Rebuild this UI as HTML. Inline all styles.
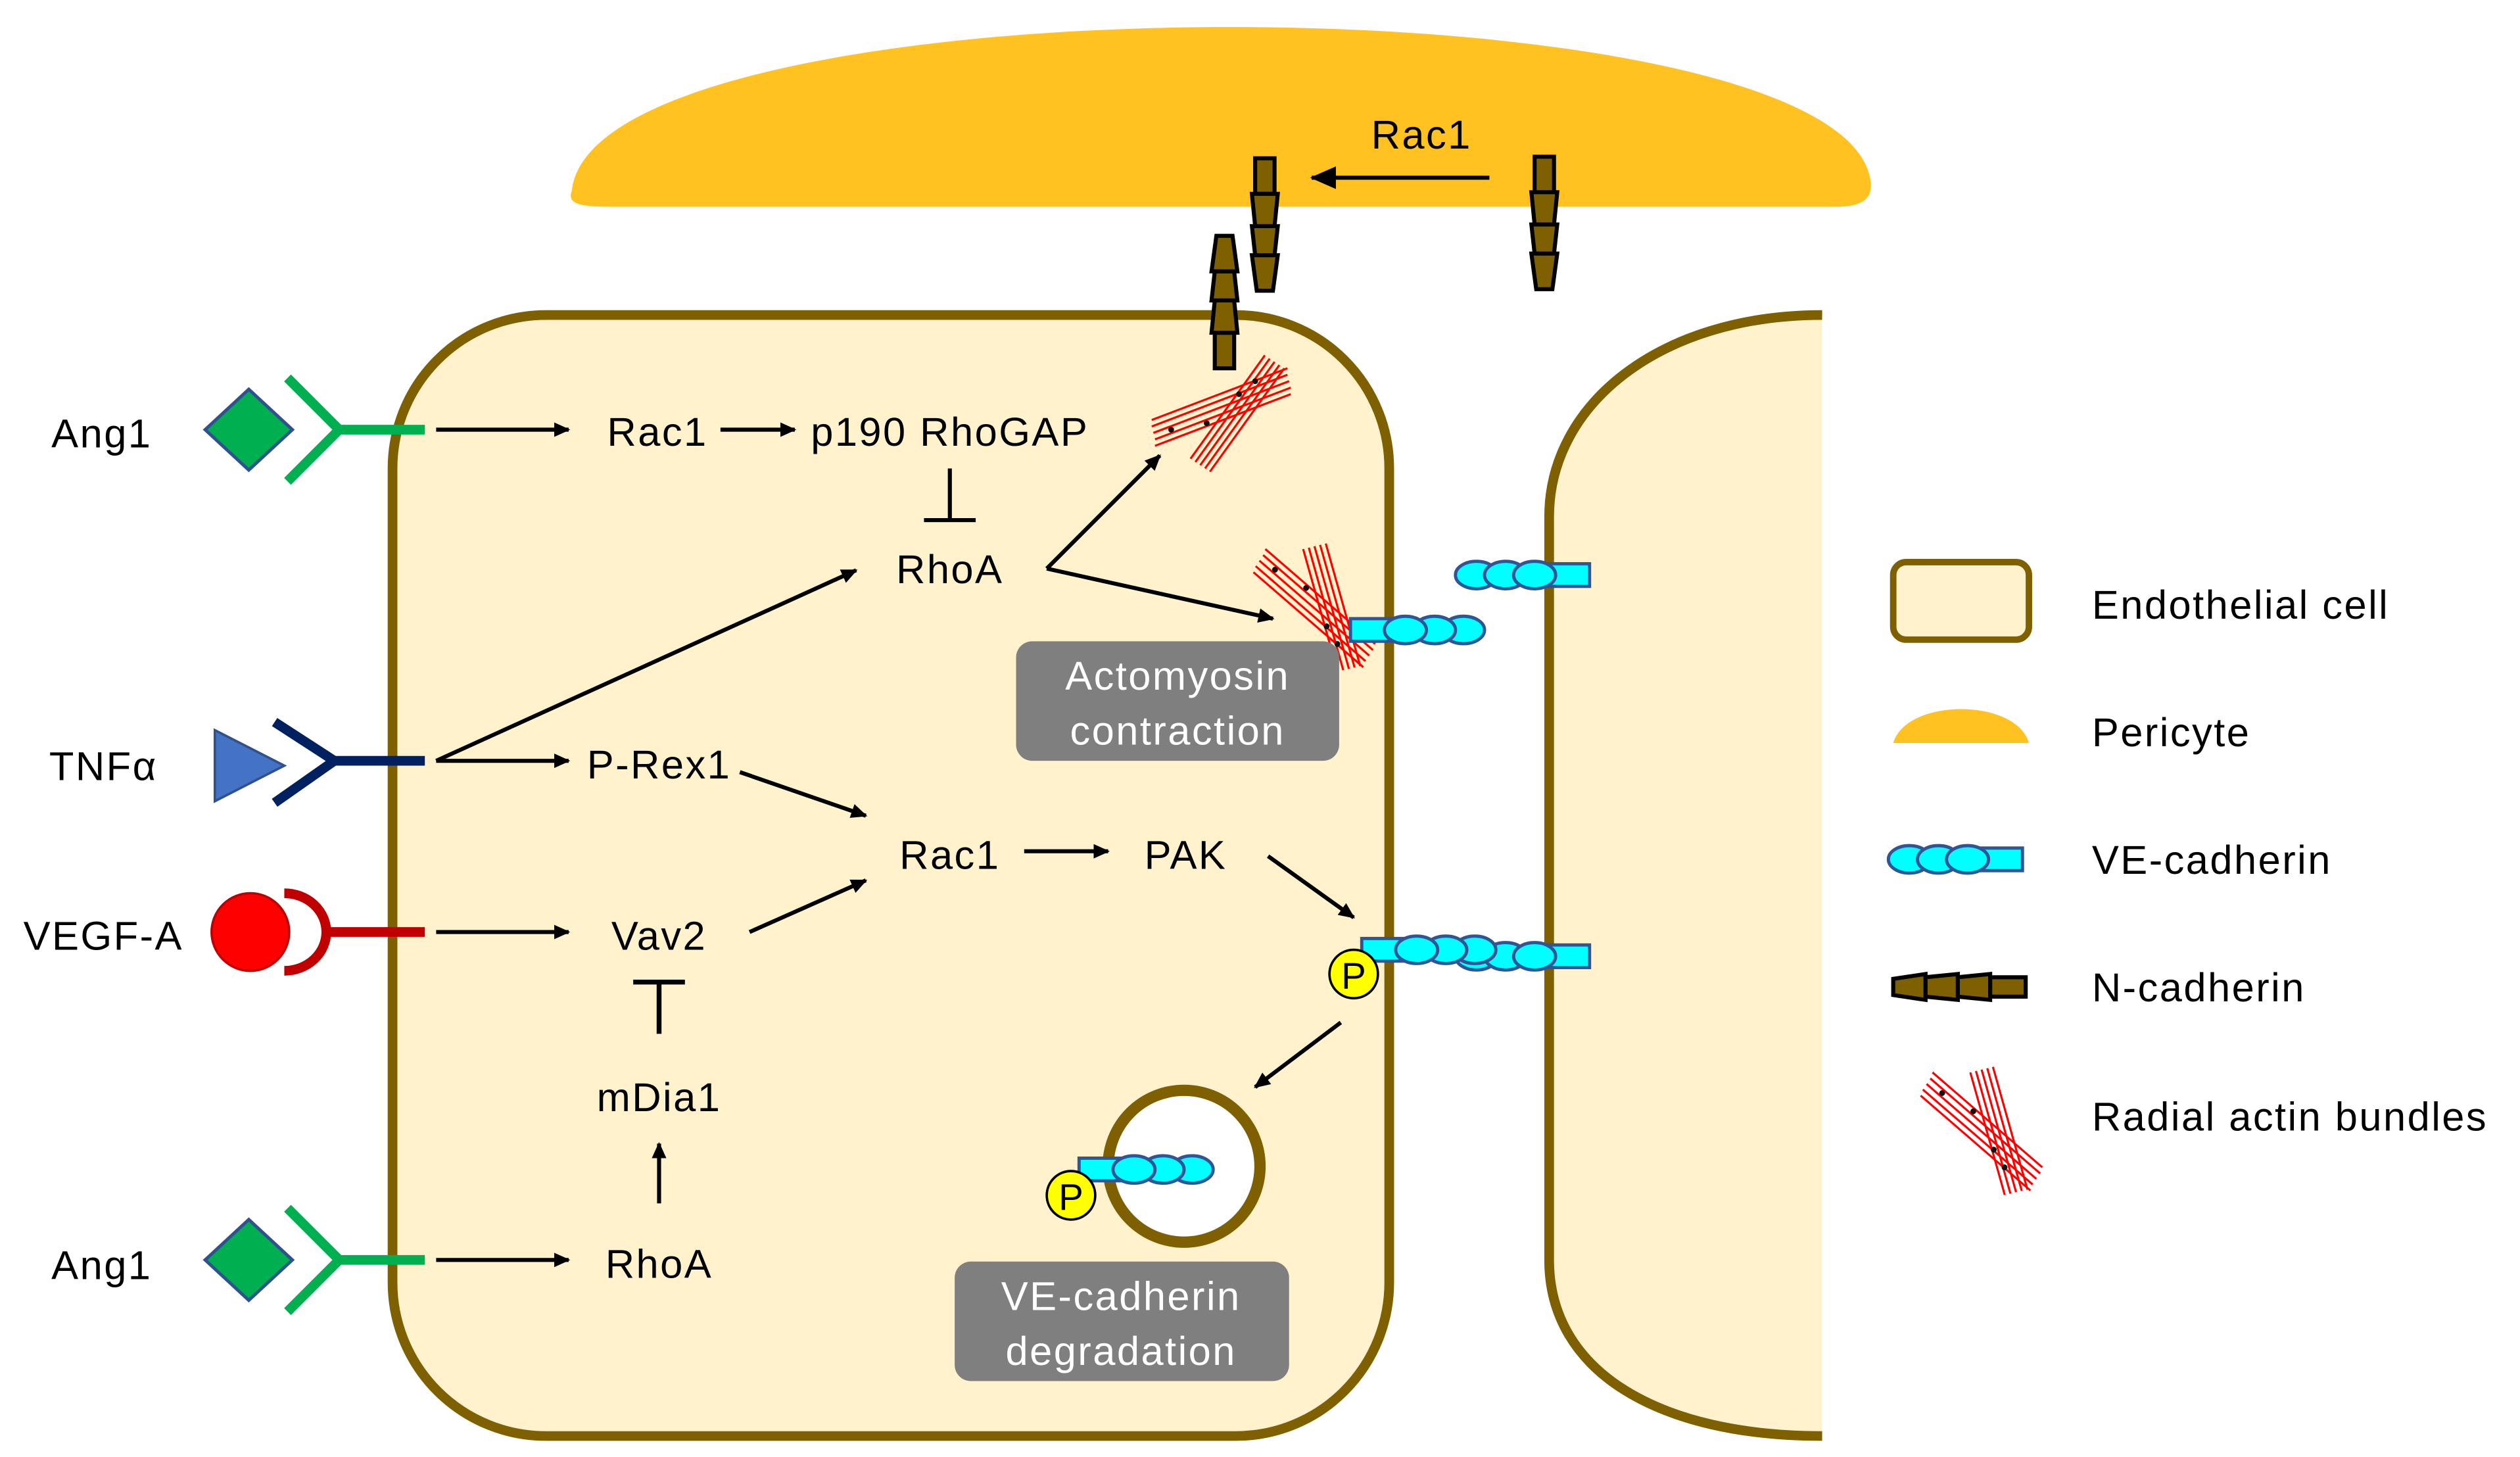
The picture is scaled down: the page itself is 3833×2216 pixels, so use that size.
<!DOCTYPE html>
<html><head><meta charset="utf-8"><style>html,body{margin:0;padding:0;background:#fff}svg{display:block}</style></head>
<body>
<svg width="3833" height="2216" viewBox="0 0 1560 902" preserveAspectRatio="none" xmlns="http://www.w3.org/2000/svg" font-family="Liberation Sans, sans-serif" font-size="25" letter-spacing="1">
<defs>
<marker id="ah" markerWidth="10" markerHeight="10" refX="9" refY="5" orient="auto" markerUnits="userSpaceOnUse" viewBox="0 0 10 10"><path d="M0,0.5 L10,5 L0,9.5 Z" fill="#000"/></marker>
<marker id="ah2" markerWidth="16" markerHeight="16" refX="15" refY="8" orient="auto" markerUnits="userSpaceOnUse" viewBox="0 0 16 16"><path d="M0,1 L16,8 L0,15 Z" fill="#000"/></marker>
<g id="ncd">
<rect x="-6" y="0" width="12" height="22" fill="#7f6000" stroke="#000" stroke-width="2.5"/>
<path d="M-8,22 L8,22 L6,42 L-6,42 Z" fill="#7f6000" stroke="#000" stroke-width="2.5"/>
<path d="M-8,42 L8,42 L6,60 L-6,60 Z" fill="#7f6000" stroke="#000" stroke-width="2.5"/>
<path d="M-8,60 L8,60 L5,82 L-5,82 Z" fill="#7f6000" stroke="#000" stroke-width="2.5"/>
</g>
<g id="vec">
<rect x="0" y="-7" width="26" height="14" fill="#00ffff" stroke="#2f5597" stroke-width="2"/>
<ellipse cx="70" cy="0" rx="13" ry="8.5" fill="#00ffff" stroke="#2f5597" stroke-width="2"/>
<ellipse cx="52" cy="0" rx="13" ry="8.5" fill="#00ffff" stroke="#2f5597" stroke-width="2"/>
<ellipse cx="34" cy="0" rx="13" ry="8.5" fill="#00ffff" stroke="#2f5597" stroke-width="2"/>
</g>
<g id="act" stroke="#ff0000" stroke-width="1.3" fill="none">
<line x1="-42" y1="10" x2="42" y2="-22"/><line x1="-42" y1="14" x2="42" y2="-18"/><line x1="-41" y1="18" x2="43" y2="-14"/><line x1="-40" y1="22" x2="44" y2="-10"/><line x1="-40" y1="26" x2="44" y2="-6"/>
<line x1="-18" y1="34" x2="28" y2="-30"/><line x1="-15" y1="36" x2="31" y2="-28"/><line x1="-12" y1="38" x2="34" y2="-26"/><line x1="-9" y1="40" x2="37" y2="-24"/><line x1="-6" y1="42" x2="40" y2="-22"/>
<circle cx="-30" cy="16" r="1.8" fill="#111" stroke="none"/><circle cx="-8" cy="12" r="1.8" fill="#111" stroke="none"/><circle cx="12" cy="-6" r="1.8" fill="#111" stroke="none"/><circle cx="22" cy="-14" r="1.8" fill="#111" stroke="none"/>
</g>
</defs>

<!-- pericyte -->
<path d="M354,118 C368,-16 1140,-16 1158,112 C1160,126 1148,128 1135,128 L378,128 C358,128 351,126 354,118 Z" fill="#ffc220"/>
<text x="880" y="92" text-anchor="middle">Rac1</text>
<line x1="922" y1="110" x2="812" y2="110" stroke="#000" stroke-width="2.5" marker-end="url(#ah2)"/>

<!-- cells -->
<rect x="243" y="195" width="617" height="694" rx="95" ry="95" fill="#fff2cc" stroke="#7f6000" stroke-width="6"/>
<path d="M1128,195 C1028,195 959,250 959,320 L959,780 C959,850 1028,889 1128,889 Z" fill="#fff2cc"/>
<path d="M1128,195 C1028,195 959,250 959,320 L959,780 C959,850 1028,889 1128,889" fill="none" stroke="#7f6000" stroke-width="6"/>

<!-- N-cadherin -->
<use href="#ncd" x="783" y="98"/>
<use href="#ncd" x="956" y="97"/>
<use href="#ncd" transform="translate(758,228) scale(1,-1)"/>

<!-- actin -->
<use href="#act" x="755" y="250"/>
<use href="#act" transform="translate(812,378) scale(1,-1) rotate(-20)"/>

<!-- VE-cadherin -->
<use href="#vec" transform="translate(984,356) scale(-1,1)"/>
<use href="#vec" transform="translate(836,390)"/>
<use href="#vec" transform="translate(984,592) scale(-1,1)"/>
<use href="#vec" transform="translate(843,588)"/>

<!-- vesicle -->
<circle cx="733" cy="722" r="47" fill="#fff" stroke="#7f6000" stroke-width="7"/>
<use href="#vec" transform="translate(668,724)"/>
<circle cx="838" cy="603" r="15" fill="#ffff00" stroke="#000" stroke-width="1.5"/>
<text x="838" y="612" text-anchor="middle" font-size="23" letter-spacing="0">P</text>
<circle cx="663" cy="740" r="15" fill="#ffff00" stroke="#000" stroke-width="1.5"/>
<text x="663" y="749" text-anchor="middle" font-size="23" letter-spacing="0">P</text>

<!-- boxes -->
<rect x="629" y="397" width="200" height="74" rx="10" fill="#7f7f7f"/>
<text x="729" y="427" text-anchor="middle" fill="#fff">Actomyosin</text>
<text x="729" y="461" text-anchor="middle" fill="#fff">contraction</text>
<rect x="591" y="781" width="207" height="74" rx="10" fill="#7f7f7f"/>
<text x="694" y="811" text-anchor="middle" fill="#fff">VE-cadherin</text>
<text x="694" y="845" text-anchor="middle" fill="#fff">degradation</text>

<!-- ligands/receptors -->
<text x="63" y="277" text-anchor="middle">Ang1</text>
<path d="M154,241 L181,266 L154,291 L127,266 Z" fill="#00b050" stroke="#2f528f" stroke-width="2"/>
<path d="M178,234 L210,266 L178,298 M210,266 L263,266" fill="none" stroke="#00b050" stroke-width="6"/>
<text x="63" y="792" text-anchor="middle">Ang1</text>
<path d="M154,755 L181,780 L154,805 L127,780 Z" fill="#00b050" stroke="#2f528f" stroke-width="2"/>
<path d="M178,748 L210,780 L178,812 M210,780 L263,780" fill="none" stroke="#00b050" stroke-width="6"/>
<text x="64" y="483" text-anchor="middle">TNFα</text>
<path d="M133,452 L176,474 L133,496 Z" fill="#4472c4" stroke="#2f528f" stroke-width="1.5"/>
<path d="M170,447 L207,471 L170,497 M207,471 L263,471" fill="none" stroke="#002060" stroke-width="6"/>
<text x="64" y="588" text-anchor="middle">VEGF-A</text>
<ellipse cx="155" cy="577" rx="24" ry="24" fill="#ff0000" stroke="#c00000" stroke-width="1.5"/>
<path d="M176,553 A26,24 0 0 1 176,601" fill="none" stroke="#c00000" stroke-width="6"/>
<line x1="201" y1="577" x2="263" y2="577" stroke="#c00000" stroke-width="6"/>

<!-- pathway -->
<g stroke="#000" stroke-width="2.5" fill="none">
<line x1="270" y1="266" x2="352" y2="266" marker-end="url(#ah)"/>
<line x1="446" y1="266" x2="492" y2="266" marker-end="url(#ah)"/>
<line x1="588" y1="290" x2="588" y2="321"/><line x1="572" y1="322" x2="604" y2="322"/>
<line x1="648" y1="352" x2="718" y2="282" marker-end="url(#ah)"/>
<line x1="648" y1="352" x2="788" y2="383" marker-end="url(#ah)"/>
<line x1="270" y1="471" x2="530" y2="353" marker-end="url(#ah)"/>
<line x1="270" y1="471" x2="352" y2="471" marker-end="url(#ah)"/>
<line x1="458" y1="478" x2="536" y2="505" marker-end="url(#ah)"/>
<line x1="634" y1="527" x2="686" y2="527" marker-end="url(#ah)"/>
<line x1="785" y1="530" x2="838" y2="568" marker-end="url(#ah)"/>
<line x1="270" y1="577" x2="352" y2="577" marker-end="url(#ah)"/>
<line x1="464" y1="577" x2="536" y2="545" marker-end="url(#ah)"/>
<line x1="408" y1="608" x2="408" y2="640" stroke-width="3"/><line x1="392" y1="608" x2="424" y2="608" stroke-width="3"/>
<line x1="408" y1="745" x2="408" y2="708" marker-end="url(#ah)"/>
<line x1="270" y1="780" x2="352" y2="780" marker-end="url(#ah)"/>
<line x1="830" y1="633" x2="777" y2="673" marker-end="url(#ah)"/>
</g>
<text x="407" y="276" text-anchor="middle">Rac1</text>
<text x="588" y="276" text-anchor="middle">p190 RhoGAP</text>
<text x="588" y="361" text-anchor="middle">RhoA</text>
<text x="408" y="482" text-anchor="middle">P-Rex1</text>
<text x="588" y="538" text-anchor="middle">Rac1</text>
<text x="734" y="538" text-anchor="middle">PAK</text>
<text x="408" y="588" text-anchor="middle">Vav2</text>
<text x="408" y="688" text-anchor="middle">mDia1</text>
<text x="408" y="791" text-anchor="middle">RhoA</text>

<!-- legend -->
<rect x="1172" y="348" width="84" height="48" rx="8" fill="#fff2cc" stroke="#7f6000" stroke-width="4"/>
<text x="1295" y="383">Endothelial cell</text>
<path d="M1172,460 C1180,432 1248,432 1256,460 Z" fill="#ffc220"/>
<text x="1295" y="462">Pericyte</text>
<use href="#vec" transform="translate(1252,532) scale(-1,1)"/>
<text x="1295" y="541">VE-cadherin</text>
<g transform="translate(1172,611) rotate(-90)">
<rect x="-6" y="60" width="12" height="22" fill="#7f6000" stroke="#000" stroke-width="2.5"/>
<path d="M-5,0 L5,0 L8,20 L-8,20 Z" fill="#7f6000" stroke="#000" stroke-width="2.5"/>
<path d="M-6,20 L6,20 L8,40 L-8,40 Z" fill="#7f6000" stroke="#000" stroke-width="2.5"/>
<path d="M-6,40 L6,40 L8,60 L-8,60 Z" fill="#7f6000" stroke="#000" stroke-width="2.5"/>
</g>
<text x="1295" y="620">N-cadherin</text>
<use href="#act" transform="translate(1225,702) scale(1,-1) rotate(-20)"/>
<text x="1295" y="700">Radial actin bundles</text>
</svg>
</body></html>
